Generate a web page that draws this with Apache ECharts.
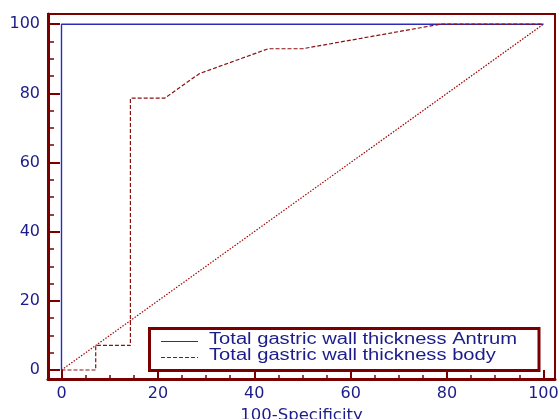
<!DOCTYPE html>
<html><head><meta charset="utf-8">
<script src="https://cdn.jsdelivr.net/npm/echarts@6/dist/echarts.min.js"></script>
<style>html,body{margin:0;padding:0;background:#fff}#c{width:559px;height:419px}</style>
</head><body><div id="c"></div>
<script>
const tickValues = [0, 20, 40, 60, 80, 100];
const minorValues = [5, 10, 15, 25, 30, 35, 45, 50, 55, 65, 70, 75, 85, 90, 95];
const antrumX = [0, 0, 100];
const antrumY = [0, 100, 100];
const bodyX = [0, 7.1, 7.1, 14.3, 14.3, 21.4, 28.6, 42.9, 50, 78.6, 100];
const bodyY = [0, 0, 7.1, 7.1, 78.6, 78.6, 85.7, 92.9, 92.9, 100, 100];
const diagX = [0, 100];
const diagY = [0, 100];
const seriesNames = ['Total gastric wall thickness Antrum', 'Total gastric wall thickness body'];
const axisName = '100-Specificity';

const AX = '#7a0000', TXT = '#1c1c8a', FONT = 'DejaVu Sans';
const BLUE = '#2a2ac0', RED = '#8b1010';
const zip = (a, b) => a.map((v, i) => [v, b[i]]);
const X0 = -2.8, X1 = 102.4, Y0 = -2.6, Y1 = 102.95;

const chart = echarts.init(document.getElementById('c'), null, {renderer: 'canvas'});
chart.setOption({
  animation: false,
  grid: {left: 48, right: 4, top: 14, bottom: 40, show: true, borderColor: AX, borderWidth: 2,
         backgroundColor: '#fff', containLabel: false, outerBoundsMode: 'none'},
  xAxis: [
    {type: 'value', min: X0, max: X1, position: 'bottom', splitLine: {show: false},
     axisLine: {show: true, onZero: false, lineStyle: {color: AX, width: 3}},
     axisTick: {show: true, inside: true, length: 9, customValues: tickValues, lineStyle: {color: AX, width: 2}},
     axisLabel: {customValues: tickValues, color: TXT, fontFamily: FONT, fontSize: 16, margin: 7},
     name: axisName, nameLocation: 'middle', nameGap: 27,
     nameTextStyle: {color: TXT, fontFamily: FONT, fontSize: 16.5, verticalAlign: 'top'}},
    {type: 'value', min: X0, max: X1, position: 'bottom', splitLine: {show: false},
     axisLine: {show: false, onZero: false},
     axisTick: {show: true, inside: true, length: 4, customValues: minorValues, lineStyle: {color: AX, width: 1.5}},
     axisLabel: {show: false}}
  ],
  yAxis: [
    {type: 'value', min: Y0, max: Y1, position: 'left', splitLine: {show: false},
     axisLine: {show: true, onZero: false, lineStyle: {color: AX, width: 3}},
     axisTick: {show: true, inside: true, length: 12, customValues: tickValues, lineStyle: {color: AX, width: 2}},
     axisLabel: {customValues: tickValues, color: TXT, fontFamily: FONT, fontSize: 16, margin: 8}},
    {type: 'value', min: Y0, max: Y1, position: 'left', splitLine: {show: false},
     axisLine: {show: false, onZero: false},
     axisTick: {show: true, inside: true, length: 6, customValues: minorValues, lineStyle: {color: AX, width: 1.5}},
     axisLabel: {show: false}}
  ],
  graphic: [
    {type: 'rect', z: 100, shape: {x: 149.5, y: 328.5, width: 389.5, height: 42},
     style: {fill: '#fff', stroke: AX, lineWidth: 3}},
    {type: 'line', z: 101, shape: {x1: 161, y1: 341.5, x2: 198, y2: 341.5},
     style: {stroke: BLUE, lineWidth: 1.2}},
    {type: 'line', z: 101, shape: {x1: 161, y1: 357.5, x2: 198, y2: 357.5},
     style: {stroke: RED, lineWidth: 1.2, lineDash: [4, 2]}},
    {type: 'text', z: 101, x: 209, y: 339.5, scaleX: 1.26,
     style: {text: seriesNames[0], fill: TXT, font: '16px "Liberation Sans"', verticalAlign: 'middle', align: 'left'}},
    {type: 'text', z: 101, x: 209, y: 355.5, scaleX: 1.26,
     style: {text: seriesNames[1], fill: TXT, font: '16px "Liberation Sans"', verticalAlign: 'middle', align: 'left'}}
  ],
  series: [
    {name: 'diag', type: 'line', data: zip(diagX, diagY), symbol: 'none', silent: true,
     lineStyle: {color: '#a00000', width: 1.2, type: [1.5, 1.5]}},
    {name: seriesNames[0], type: 'line', data: zip(antrumX, antrumY), symbol: 'none',
     lineStyle: {color: BLUE, width: 1.4}},
    {name: seriesNames[1], type: 'line', data: zip(bodyX, bodyY), symbol: 'none',
     lineStyle: {color: RED, width: 1.2, type: [4, 2]}}
  ]
});
</script></body></html>
